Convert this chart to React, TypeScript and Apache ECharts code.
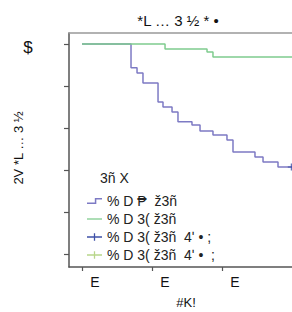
import React, { useEffect, useRef } from "react";
import * as echarts from "echarts";

// Kaplan-Meier style step curves: [time, survival]
const groupAName = "% D ₱  ž3ñ";
const groupBName = "% D 3( ž3ñ";
const censorAName = "% D 3( ž3ñ  4ʹ • ;";
const censorBName = "% D 3( ž3ñ  4ʹ •  ;";

const groupA: [number, number][] = [
  [0, 1.0], [0.7, 0.886], [0.786, 0.862], [0.871, 0.814], [1.086, 0.724],
  [1.157, 0.7], [1.286, 0.676], [1.371, 0.629], [1.571, 0.614], [1.686, 0.586],
  [1.871, 0.567], [2.071, 0.543], [2.157, 0.486], [2.471, 0.462], [2.586, 0.438],
  [2.8, 0.414], [3.0, 0.414],
];
const groupB: [number, number][] = [
  [0, 1.0], [1.186, 0.976], [1.786, 0.962], [1.871, 0.938], [3.0, 0.936],
];
const censorA: [number, number][] = [[2.99, 0.414]];
const censorB: [number, number][] = [];

const xTickValues = [0, 1, 2];
const xTickLabels = ["E", "E", "E"];
const yTickValues = [0, 0.2, 0.4, 0.6, 0.8, 1.0];

const titleText = "*L … 3 ½ * •";
const yTitle = "2V *L … 3 ½";
const xTitle = "#K!";
const panelLabel = "$";
const legendTitle = "3ñ X";

const FONT = "Liberation Sans, Arial, sans-serif";
const plus = "path://M0,4.3L10,4.3L10,5.7L0,5.7Z M4.3,0L5.7,0L5.7,10L4.3,10Z";
const stepIcon = "path://M0,6.3L7.3,6.3L7.3,2.3L14,2.3L14,3.7L8.7,3.7L8.7,7.7L0,7.7Z";
const lineIcon = "path://M0,4.4L14,4.4L14,5.6L0,5.6Z";
const censorIcon = "path://M0,4.4L14,4.4L14,5.6L0,5.6Z M6.4,1.5L7.6,1.5L7.6,8.5L6.4,8.5Z";

export default function App() {
  const ref = useRef<HTMLDivElement>(null);
  useEffect(() => {
    if (!ref.current) return;
    const chart = echarts.init(ref.current, undefined, { renderer: "svg" });
    const axisColor = "#555";
    chart.setOption({
      animation: false,
      backgroundColor: "#fff",
      textStyle: { fontFamily: FONT },
      grid: { left: 69, top: 33, right: 0, bottom: 45, containLabel: false },
      xAxis: [
        {
          type: "value",
          min: -0.186,
          max: 3.0,
          splitLine: { show: false },
          axisLine: { show: true, onZero: false, lineStyle: { color: axisColor, width: 1.5 } },
          axisTick: {
            show: true,
            customValues: xTickValues,
            length: 4,
            lineStyle: { color: axisColor, width: 1.2 },
          },
          axisLabel: {
            customValues: xTickValues,
            formatter: (v: number) => {
              const i = xTickValues.indexOf(Math.round(v));
              return i >= 0 ? xTickLabels[i] : "";
            },
            color: "#111",
            fontSize: 14,
            fontFamily: FONT,
            margin: 8,
            padding: [0, 0, 0, 26],
          },
        },
        {
          type: "value",
          position: "top",
          min: -0.186,
          max: 3.0,
          splitLine: { show: false },
          axisLine: { show: true, onZero: false, lineStyle: { color: "#999", width: 1.5 } },
          axisTick: { show: false },
          axisLabel: { show: false },
        },
      ],
      yAxis: {
        type: "value",
        min: -0.062,
        max: 1.052,
        splitLine: { show: false },
        axisLine: { show: true, onZero: false, lineStyle: { color: axisColor, width: 1.5 } },
        axisTick: {
          show: true,
          customValues: yTickValues,
          length: 5,
          lineStyle: { color: axisColor, width: 1.2 },
        },
        axisLabel: { show: false },
      },
      legend: {
        orient: "vertical",
        left: 82,
        top: 189,
        itemWidth: 15,
        itemHeight: 10,
        itemGap: 4,
        data: [
          { name: groupAName, icon: stepIcon },
          { name: groupBName, icon: lineIcon },
          { name: censorAName, icon: censorIcon },
          { name: censorBName, icon: censorIcon },
        ],
        textStyle: { color: "#222", fontSize: 14, lineHeight: 14, fontFamily: FONT },
      },
      series: [
        {
          name: groupAName,
          type: "line",
          step: "end",
          data: groupA,
          symbol: "none",
          lineStyle: { color: "#7d7ac4", width: 1.5 },
          itemStyle: { color: "#7d7ac4" },
        },
        {
          name: groupBName,
          type: "line",
          step: "end",
          data: groupB,
          symbol: "none",
          lineStyle: { color: "#7fcc8e", width: 1.5 },
          itemStyle: { color: "#7fcc8e" },
        },
        {
          name: censorAName,
          type: "line",
          data: censorA,
          symbol: plus,
          symbolSize: 7,
          clip: false,
          lineStyle: { color: "#3f51a8", width: 1.2 },
          itemStyle: { color: "#3f51a8" },
        },
        {
          name: censorBName,
          type: "line",
          data: censorB,
          symbol: plus,
          symbolSize: 7,
          clip: false,
          lineStyle: { color: "#b8d68a", width: 1.2 },
          itemStyle: { color: "#b8d68a" },
        },
      ],
      graphic: [
        {
          type: "text",
          x: 178,
          y: 20,
          style: { text: titleText, fill: "#111", font: `15px ${FONT}`, align: "center", verticalAlign: "middle" },
        },
        {
          type: "text",
          x: 28,
          y: 47,
          style: { text: panelLabel, fill: "#111", font: `17px ${FONT}`, align: "center", verticalAlign: "middle" },
        },
        {
          type: "text",
          x: 18,
          y: 148,
          rotation: Math.PI / 2,
          style: { text: yTitle, fill: "#111", font: `13px ${FONT}`, align: "center", verticalAlign: "middle" },
        },
        {
          type: "text",
          x: 186,
          y: 302,
          style: { text: xTitle, fill: "#111", font: `13px ${FONT}`, align: "center", verticalAlign: "middle" },
        },
        {
          type: "text",
          x: 100,
          y: 178,
          style: { text: legendTitle, fill: "#222", font: `14px ${FONT}`, align: "left", verticalAlign: "middle" },
        },
      ],
    });
    return () => chart.dispose();
  }, []);
  return (
    <div
      ref={ref}
      style={{ position: "absolute", left: 0, top: 0, width: 292, height: 312 }}
    />
  );
}
